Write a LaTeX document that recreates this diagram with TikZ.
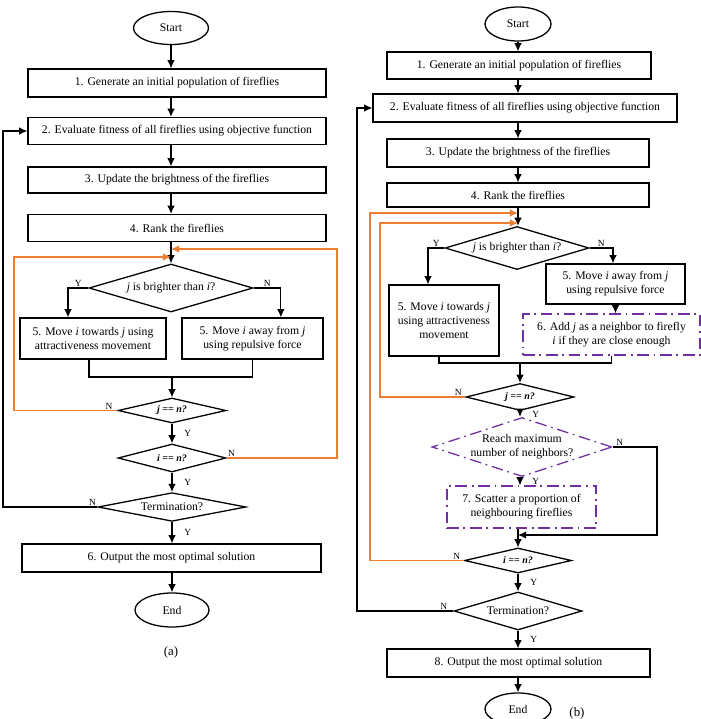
\documentclass[tikz,border=0pt]{standalone}
\usepackage{fontspec}
\setmainfont{Liberation Serif}
\usetikzlibrary{shapes.geometric,arrows.meta}
\definecolor{loopcol}{RGB}{237,125,49}
\definecolor{newcol}{RGB}{112,48,160}

\tikzset{
  box/.style={draw, line width=1.1pt, inner sep=1pt, align=center, font=\fontsize{10}{12}\selectfont},
  oval/.style={ellipse, draw, line width=1.1pt, inner sep=0pt, font=\fontsize{10}{12}\selectfont},
  decide/.style={diamond, draw, line width=1.1pt, inner sep=0pt, aspect=3, align=center, font=\fontsize{10}{12}\selectfont},
  newbox/.style={box, draw=newcol, dash pattern=on 10pt off 4pt on 1.5pt off 4pt},
  newdecide/.style={decide, draw=newcol, dash pattern=on 10pt off 4pt on 1.5pt off 4pt},
  test/.style={font=\fontsize{8.5}{10}\selectfont\bfseries\itshape},
  arr/.style={-{Latex[length=7pt,width=6.5pt]}, line width=1.1pt},
  backarr/.style={arr, draw=loopcol, line width=1pt},
  yn/.style={font=\fontsize{8}{9}\selectfont, inner sep=1pt}
}

\begin{document}
\begin{tikzpicture}[x=0.03cm, y=-0.03cm]
\useasboundingbox (0,0) rectangle (701,719);

% ===== (a) standard firefly algorithm =====
\node[oval, minimum width=2.25cm, minimum height=0.99cm] (aStart) at (171,28) {Start};
\node[box, minimum width=8.94cm, minimum height=0.84cm] (a1) at (177,83) {1. Generate an initial population of fireflies};
\node[box, minimum width=8.94cm, minimum height=0.81cm] (a2) at (177,131) {2. Evaluate fitness of all fireflies using objective function};
\node[box, minimum width=8.94cm, minimum height=0.78cm] (a3) at (177,180) {3. Update the brightness of the fireflies};
\node[box, minimum width=8.94cm, minimum height=0.81cm] (a4) at (177,228) {4. Rank the fireflies};
\node[decide, minimum width=4.92cm, minimum height=1.44cm] (aBright) at (171,288) {\textit{j} is brighter than \textit{i}?};
\node[box, minimum width=4.38cm, minimum height=1.23cm] (a5y) at (93,338.5) {5. Move \textit{i} towards \textit{j} using\\attractiveness movement};
\node[box, minimum width=4.23cm, minimum height=1.23cm] (a5n) at (252.5,338.5) {5. Move \textit{i} away from \textit{j}\\using repulsive force};
\node[decide, test, minimum width=3.24cm, minimum height=0.75cm] (aJ) at (172,410.5) {j == n?};
\node[decide, test, minimum width=3.24cm, minimum height=0.84cm] (aI) at (172,458) {i == n?};
\node[decide, minimum width=4.44cm, minimum height=0.84cm] (aTerm) at (172,507) {Termination?};
\node[box, minimum width=8.97cm, minimum height=0.84cm] (a6) at (171.5,558) {6. Output the most optimal solution};
\node[oval, minimum width=2.22cm, minimum height=1.02cm] (aEnd) at (172,610) {End};
\node[font=\fontsize{11}{13}\selectfont] (capA) at (171,652) {(a)};

% ---- main flow ----
\draw[arr] (aStart) -- (a1.north -| aStart);
\foreach \u/\v in {a1/a2, a2/a3, a3/a4} {
  \draw[arr] (\u.south -| aStart) -- (\v.north -| aStart);
}
\draw[arr] (a4.south -| aStart) -- (aBright.north);
\draw[arr] (aBright.west) -| ([xshift=-0.75cm]a5y.north) node[yn, above, pos=0.25] {Y};
\draw[arr] (aBright.east) -| ([xshift=0.85cm]a5n.north) node[yn, above, pos=0.25] {N};
\coordinate (aJoin) at (172,377);
\draw[line width=1.1pt] ([xshift=-0.12cm]a5y.south) |- (aJoin) -| (a5n.south);
\draw[arr] (aJoin) -- (aJ.north);
\draw[arr] (aJ.south) -- (aI.north) node[yn, midway, right=9pt] {Y};
\draw[arr] (aI.south) -- (aTerm.north) node[yn, midway, right=9pt] {Y};
\draw[arr] (aTerm.south) -- (aTerm.south |- a6.north) node[yn, midway, right=9pt] {Y};
\draw[arr] (a6.south -| aEnd) -- (aEnd.north);

% ---- loops ----
\coordinate (aLoopJ) at (14,257);
\coordinate (aLoopI) at (337,249);
\draw[backarr] (aJ.west) -| (aLoopJ) -- (aLoopJ -| aStart);
\draw[backarr] (aI.east) -| (aLoopI) -- (aLoopI -| aStart);
\node[yn, above left, xshift=-3pt] at (aJ.west) {N};
\node[yn, above right] at (aI.east) {N};
\coordinate (aBack) at (3,507);
\draw[arr] (aTerm.west) -- (aBack) |- (a2.west);
\node[yn, above left] at (aTerm.west) {N};

% ===== (b) modified firefly algorithm =====
\node[oval, minimum width=1.98cm, minimum height=1.02cm] (bStart) at (518,24) {Start};
\node[box, minimum width=7.92cm, minimum height=0.81cm] (b1) at (519,65.5) {1. Generate an initial population of fireflies};
\node[box, minimum width=9.12cm, minimum height=0.84cm] (b2) at (525,108) {2. Evaluate fitness of all fireflies using objective function};
\node[box, minimum width=7.86cm, minimum height=0.84cm] (b3) at (518,153) {3. Update the brightness of the fireflies};
\node[box, minimum width=7.86cm, minimum height=0.72cm] (b4) at (518,195) {4. Rank the fireflies};
\node[decide, minimum width=4.32cm, minimum height=1.29cm] (bBright) at (517,248) {\textit{j} is brighter than \textit{i}?};
\node[box, minimum width=3.3cm, minimum height=2.13cm] (b5y) at (444,320.5) {5. Move \textit{i} towards \textit{j}\\using attractiveness\\movement};
\node[box, minimum width=4.17cm, minimum height=1.2cm] (b5n) at (615.5,284) {5. Move \textit{i} away from \textit{j}\\using repulsive force};
\node[newbox, minimum width=5.31cm, minimum height=1.23cm] (b6) at (611.5,334.5) {6. Add \textit{j} as a neighbor to firefly\\\textit{i} if they are close enough};
\node[decide, test, minimum width=3.24cm, minimum height=0.81cm] (bJ) at (520,397) {j == n?};
\node[newdecide, minimum width=5.4cm, minimum height=1.35cm] (bMax) at (522,447) {Reach maximum\\number of neighbors?};
\node[newbox, minimum width=4.47cm, minimum height=1.26cm] (b7) at (521.5,507) {7. Scatter a proportion of\\neighbouring fireflies};
\node[decide, test, minimum width=3.21cm, minimum height=0.75cm] (bI) at (518,560.5) {i == n?};
\node[decide, minimum width=3.84cm, minimum height=1.14cm] (bTerm) at (518,611) {Termination?};
\node[box, minimum width=7.89cm, minimum height=0.84cm] (b8) at (518.5,663) {8. Output the most optimal solution};
\node[oval, minimum width=1.98cm, minimum height=0.96cm] (bEnd) at (518,709) {End};
\node[font=\fontsize{11}{13}\selectfont] (capB) at (577,713) {(b)};

% ---- main flow ----
\draw[arr] (bStart) -- (b1.north -| bStart);
\foreach \u/\v in {b1/b2, b2/b3, b3/b4} {
  \draw[arr] (\u.south -| bStart) -- (\v.north -| bStart);
}
\draw[arr] (b4.south -| bStart) -- (bBright.north -| bStart);
\draw[arr] (bBright.west) -| ([xshift=-0.48cm]b5y.north) node[yn, above, pos=0.25] {Y};
\draw[arr] (bBright.east) -| ([xshift=-0.075cm]b5n.north) node[yn, above, pos=0.25] {N};
\draw[arr] (b5n.south) -- (b5n.south |- b6.north);
\coordinate (bJoin) at (520,363);
\draw[line width=1.1pt] ([xshift=-0.15cm]b5y.south) |- (bJoin) -| (b6.south);
\draw[arr] (bJoin) -- (bJ.north);
\draw[arr] (bJ.south) -- (bJ.south |- bMax.north) node[yn, midway, right=9pt] {Y};
\draw[arr] (bMax.south -| bJ) -- (bJ |- b7.north) node[yn, midway, right=9pt] {Y};
\draw[arr] (b7.south -| bI) -- (bI.north);
\coordinate (bSkip) at (657,535);
\draw[arr] (bMax.east) -| (bSkip) -- (bSkip -| bI);
\node[yn, above right, xshift=2pt] at (bMax.east) {N};
\draw[arr] (bI.south) -- (bTerm.north) node[yn, midway, right=9pt] {Y};
\draw[arr] (bTerm.south) -- (bTerm.south |- b8.north) node[yn, midway, right=9pt] {Y};
\draw[arr] (b8.south -| bEnd) -- (bEnd.north);

% ---- loops ----
\coordinate (bLoopJ) at (380,223);
\coordinate (bLoopI) at (370,213);
\draw[backarr] (bJ.west) -| (bLoopJ) -- (bLoopJ -| bStart);
\draw[backarr] (bI.west) -| (bLoopI) -- (bLoopI -| bStart);
\node[yn, above left, xshift=-2pt] at (bJ.west) {N};
\node[yn, above left, xshift=-2pt] at (bI.west) {N};
\coordinate (bBack) at (357,611);
\draw[arr] (bTerm.west) -- (bBack) |- (b2.west);
\node[yn, above left, xshift=-4pt] at (bTerm.west) {N};

\end{tikzpicture}
\end{document}
